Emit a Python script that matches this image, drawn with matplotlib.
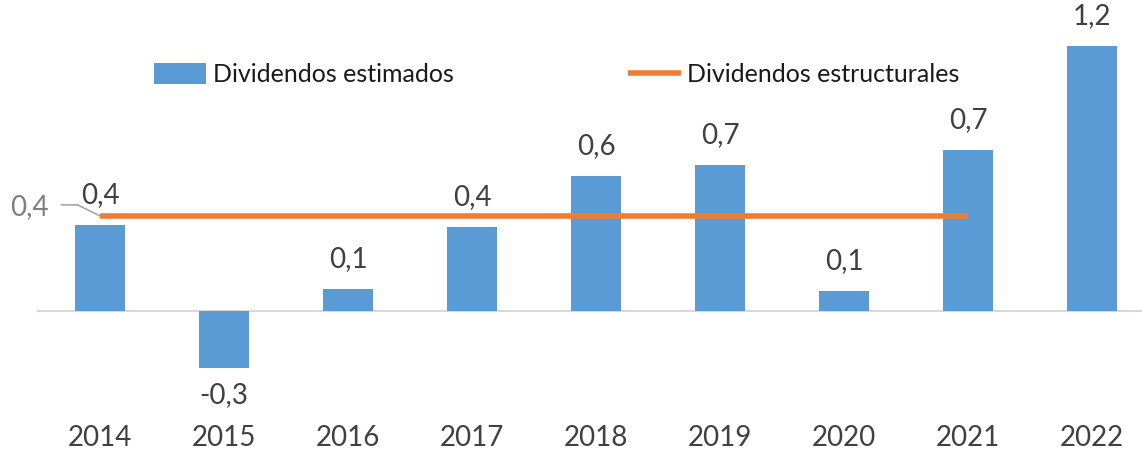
import matplotlib.pyplot as plt

# data
years = ['2014', '2015', '2016', '2017', '2018', '2019', '2020', '2021', '2022']
estimados = [0.39, -0.26, 0.10, 0.38, 0.61, 0.66, 0.09, 0.73, 1.20]
estructurales = [0.43, 0.43, 0.43, 0.43, 0.43, 0.43, 0.43, 0.43]
estructural_label = 0.4

blue = '#5B9BD5'
orange = '#ED7D31'
dark = '#404040'
grey = '#7F7F7F'

plt.rcParams['font.family'] = ['Lato', 'DejaVu Sans']

fig = plt.figure(figsize=(11.42, 4.5), dpi=100)
ax = fig.add_axes([0, 0, 1, 1])
ax.set_xlim(-0.806, 8.403)
ax.set_ylim(-0.629, 1.407)
ax.axis('off')

x = list(range(len(years)))
ax.plot([-0.5, 8.403], [0, 0], color='#D9D9D9', lw=1.5, zorder=1)
bars = ax.bar(x, estimados, width=0.4, color=blue, zorder=2, label='Dividendos estimados')
line, = ax.plot(x[:len(estructurales)], estructurales, color=orange, lw=4, zorder=3,
                solid_capstyle='butt', label='Dividendos estructurales')

# bar labels
for xi, v in zip(x, estimados):
    txt = ('%.1f' % v).replace('.', ',')
    if v >= 0:
        ax.annotate(txt, (xi, v), xytext=(0, 12), textcoords='offset points',
                    ha='center', va='bottom', fontsize=20, color=dark)
    else:
        ax.annotate(txt, (xi, v), xytext=(0, -10), textcoords='offset points',
                    ha='center', va='top', fontsize=20, color=dark)

# year labels
for xi, y in zip(x, years):
    ax.text(xi, -0.575, y, ha='center', va='center', fontsize=20, color=dark)

# label of the structural line with a leader line
x0, v0 = x[0], estructurales[0]
ax.plot([x0 - 0.31, x0 - 0.18, x0], [v0 + 0.05, v0 + 0.05, v0], color='#A6A6A6', lw=1.2, zorder=2)
ax.text(x0 - 0.565, v0 + 0.04, ('%.1f' % estructural_label).replace('.', ','),
        ha='center', va='center', fontsize=20, color=grey)

ax.legend([bars, line], ['Dividendos estimados', 'Dividendos estructurales'],
          loc='upper left', bbox_to_anchor=(0.115, 0.91), ncol=2, frameon=False,
          fontsize=18, handlelength=2.1, handleheight=0.9, handletextpad=0.25,
          columnspacing=7.0, labelcolor='#1a1a1a')

fig.savefig('out.png', dpi=100)
